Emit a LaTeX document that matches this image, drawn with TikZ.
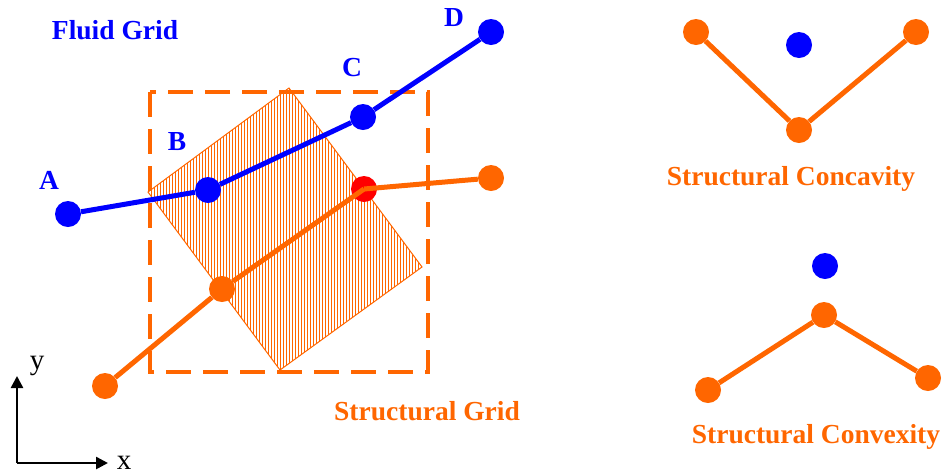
\documentclass[tikz,border=0pt]{standalone}
\usepackage{fontspec}
\setmainfont{Liberation Serif}
\usetikzlibrary{arrows.meta}
\definecolor{fluidblue}{RGB}{0,0,255}
\definecolor{structorange}{RGB}{255,102,0}
\definecolor{hitred}{RGB}{255,0,0}
\tikzset{
  fluiddot/.style={circle, fill=fluidblue, inner sep=0pt, minimum size=26pt},
  structdot/.style={circle, fill=structorange, inner sep=0pt, minimum size=26pt},
  fluidline/.style={fluidblue, line width=5pt},
  structline/.style={structorange, line width=5pt},
  lbl/.style={font=\fontsize{27.5}{30}\selectfont\bfseries, inner sep=0pt},
}

\begin{document}
\begin{tikzpicture}[x=1pt, y=-1pt]
\useasboundingbox (0,0) rectangle (944,475);
% hatched overlap cell
\begin{scope}
\clip (289,88) -- (422,267) -- (280,370) -- (148,192) -- cycle;
\foreach \i in {148,151,...,424}
  \draw[structorange, line width=1pt] (\i,85) -- (\i,373);
\end{scope}
\draw[structorange, line width=1pt] (289,88) -- (422,267) -- (280,370) -- (148,192) -- cycle;
\draw[structorange, line width=4pt, dash pattern=on 25pt off 12pt] (150,92) rectangle (428,372);
% structural grid
\node[structdot] (s1) at (105,386) {};
\node[structdot] (s2) at (222,289) {};
\node[circle, fill=hitred, inner sep=0pt, minimum size=26pt] (s3) at (364,189) {};
\node[structdot] (s4) at (491,178) {};
\draw[structline] (s1) -- (s2);
\draw[structline] (s2) -- (s3.center);
\draw[structline] (s3.center) -- (s4);
% fluid grid
\node[fluiddot] (A) at (68,214) {};
\node[fluiddot] (B) at (208,190) {};
\node[fluiddot] (C) at (363,117) {};
\node[fluiddot] (D) at (491,32) {};
\draw[fluidline] (A) -- (B);
\draw[fluidline] (B) -- (C);
\draw[fluidline] (C) -- (D);
\node[lbl, text=fluidblue] at (49,180) {A};
\node[lbl, text=fluidblue] at (177,142) {B};
\node[lbl, text=fluidblue] at (352,68) {C};
\node[lbl, text=fluidblue] at (454,18) {D};
\node[lbl, text=fluidblue] at (115,30) {Fluid Grid};
\node[lbl, text=structorange] at (427,411) {Structural Grid};
% concavity
\node[structdot] (cv1) at (696,32) {};
\node[structdot] (cv2) at (799,130) {};
\node[structdot] (cv3) at (916,32) {};
\node[fluiddot] (cvf) at (799,45) {};
\draw[structline] (cv1) -- (cv2);
\draw[structline] (cv2) -- (cv3);
\node[lbl, text=structorange] at (791,179) {Structural Concavity};
% convexity
\node[structdot] (cx1) at (708,390) {};
\node[structdot] (cx2) at (824,315) {};
\node[structdot] (cx3) at (928,378) {};
\node[fluiddot] (cxf) at (825,266) {};
\draw[structline] (cx1) -- (cx2);
\draw[structline] (cx2) -- (cx3);
\node[lbl, text=structorange] at (816,437) {Structural Convexity};
% axes
\coordinate (O) at (17,463);
\coordinate (Ytip) at (17,376);
\coordinate (Xtip) at (108,463);
\draw[line width=2.5pt, -{Triangle[length=12pt, width=12pt]}] (O) -- (Ytip);
\draw[line width=2.5pt, -{Triangle[length=12pt, width=12pt]}] (O) -- (Xtip);
\node[font=\fontsize{29}{30}\selectfont, inner sep=0pt] (ylbl) at (37,366) {y};
\node[font=\fontsize{29}{30}\selectfont, inner sep=0pt] (xlbl) at (124,463) {x};
\end{tikzpicture}
\end{document}
